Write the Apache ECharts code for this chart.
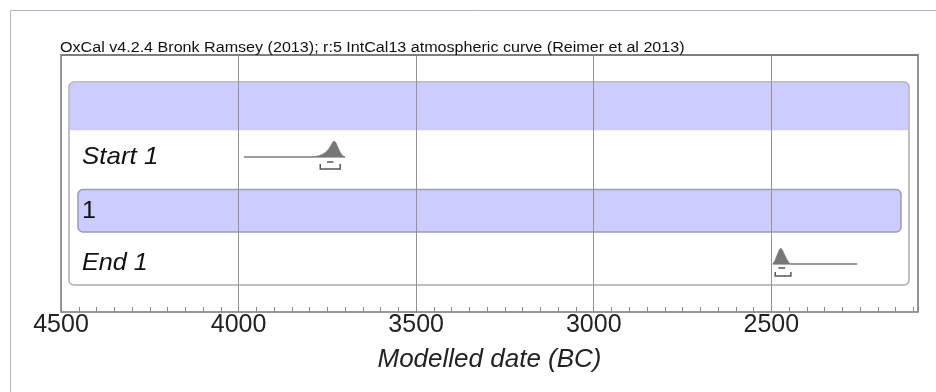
<!DOCTYPE html>
<html><head><meta charset="utf-8">
<script src="https://cdn.jsdelivr.net/npm/echarts@6/dist/echarts.min.js"></script>
<style>html,body{margin:0;padding:0;background:#fff}#c{width:936px;height:392px}</style>
</head><body><div id="c"></div>
<script>
// ---- data ----
const titleText = 'OxCal v4.2.4 Bronk Ramsey (2013); r:5 IntCal13 atmospheric curve (Reimer et al 2013)';
const axisName = 'Modelled date (BC)';
const axisMinBC = 4500;
const axisMaxBC = 2087;
const majorStep = 500;
const minorStep = 50;
const rowLabels = ['Start 1', '1', 'End 1'];

// Start 1 posterior (years BC, relative probability)
const startYears = [3985, 3800, 3785, 3775, 3765, 3756, 3748, 3741, 3735, 3731, 3726, 3720, 3714, 3707, 3700];
const startProb  = [0,    0,    0.03, 0.08, 0.16, 0.28, 0.45, 0.68, 0.92, 1.0,  0.9,  0.6,  0.3,  0.08, 0];
const startRange68 = [3751, 3733];
const startRange95 = [3770, 3714];

// End 1 posterior
const endYears = [2496, 2490, 2484, 2478, 2473, 2468, 2462, 2456, 2450, 2446, 2258];
const endProb  = [0,    0.2,  0.55, 0.88, 1.0,  0.85, 0.55, 0.28, 0.08, 0,    0];
const endRange68 = [2480, 2461];
const endRange95 = [2489, 2445];

// ---- layout ----
const G = {left: 61, right: 18, top: 55, bottom: 80};
const plotH = 392 - G.top - G.bottom;
const rowBase = {start: 102, end: 209}; // offsets from plot top (y axis units = px)
const peakPx = 16;
const FONT = "'Liberation Sans', Arial, sans-serif";

const dists = [
  {years: startYears, prob: startProb, base: rowBase.start, r68: startRange68, r95: startRange95, o68: 5, o95: 12, oTick: 7},
  {years: endYears, prob: endProb, base: rowBase.end, r68: endRange68, r95: endRange95, o68: 4, o95: 12, oTick: 8}
];

function renderDist(params, api) {
  const d = dists[params.dataIndex];
  const baseY = api.coord([-d.years[0], d.base])[1];
  const pts = d.years.map((y, i) => {
    const p = api.coord([-y, d.base]);
    return [p[0], p[1] - d.prob[i] * peakPx];
  });
  const xs = d.years.map(y => api.coord([-y, d.base])[0]);
  const minX = Math.min.apply(null, xs), maxX = Math.max.apply(null, xs);
  const a68 = api.coord([-d.r68[0], d.base])[0], b68 = api.coord([-d.r68[1], d.base])[0];
  const a95 = api.coord([-d.r95[0], d.base])[0], b95 = api.coord([-d.r95[1], d.base])[0];
  return {
    type: 'group',
    children: [
      {type: 'line', shape: {x1: minX, y1: baseY, x2: maxX, y2: baseY}, style: {stroke: '#8c8c8c', lineWidth: 1}},
      {type: 'polygon', shape: {points: pts}, style: {fill: '#777777', stroke: '#777777', lineWidth: 0.6}},
      {type: 'line', shape: {x1: a68, y1: baseY + d.o68, x2: b68, y2: baseY + d.o68}, style: {stroke: '#555', lineWidth: 1.5}},
      {type: 'polyline', shape: {points: [[a95, baseY + d.oTick], [a95, baseY + d.o95], [b95, baseY + d.o95], [b95, baseY + d.oTick]]},
        style: {stroke: '#555', lineWidth: 1.5, fill: null}}
    ]
  };
}

function label(x, y, text, font, sx) {
  return {type: 'text', z: 50, x: x, y: y, scaleX: sx,
    style: {x: 0, y: 0, text: text, font: font, fill: '#111', verticalAlign: 'middle'}};
}

const chart = echarts.init(document.getElementById('c'), null, {renderer: 'canvas'});
chart.setOption({
  animation: false,
  backgroundColor: '#fff',
  grid: [
    Object.assign({show: true, borderColor: '#777', borderWidth: 1.5, backgroundColor: 'transparent'}, G),
    Object.assign({show: false}, G)
  ],
  xAxis: [
    {
      type: 'value', gridIndex: 0, min: -axisMinBC, max: -axisMaxBC, interval: majorStep,
      axisLine: {show: true, lineStyle: {color: '#777', width: 1.5}},
      axisTick: {show: false},
      axisLabel: {
        formatter: v => (v % majorStep === 0 ? String(Math.abs(v)) : ''),
        fontFamily: FONT, fontSize: 25, color: '#222', margin: 1, showMaxLabel: true, showMinLabel: true
      },
      splitLine: {show: true, lineStyle: {color: '#939393', width: 1}},
      name: axisName, nameLocation: 'middle', nameGap: 35,
      nameTextStyle: {fontFamily: FONT, fontSize: 26, fontStyle: 'italic', color: '#222'}
    },
    {
      type: 'value', gridIndex: 1, min: -axisMinBC, max: -axisMaxBC, interval: minorStep,
      axisLine: {show: false},
      axisTick: {show: true, inside: true, length: 5, lineStyle: {color: '#888', width: 1}},
      axisLabel: {show: false},
      splitLine: {show: false}
    }
  ],
  yAxis: [
    {type: 'value', gridIndex: 0, min: 0, max: plotH, inverse: true, show: false, splitLine: {show: false}},
    {type: 'value', gridIndex: 1, min: 0, max: plotH, show: false, splitLine: {show: false}}
  ],
  graphic: [
    // page border
    {type: 'rect', z: -20, shape: {x: 10.5, y: 10.5, width: 1000, height: 1000}, style: {fill: null, stroke: '#b4b4e0', lineWidth: 1}},
    // outer rounded box
    {type: 'rect', z: -10, shape: {x: 69, y: 82, width: 840, height: 203, r: 5}, style: {fill: '#fff', stroke: '#ababab', lineWidth: 1.5}},
    // header band
    {type: 'rect', z: -9, shape: {x: 69.75, y: 82.75, width: 838.5, height: 47.5, r: [4, 4, 0, 0]}, style: {fill: '#ccccff'}},
    // band "1"
    {type: 'rect', z: -9, shape: {x: 78, y: 189.5, width: 823, height: 42.5, r: 5}, style: {fill: '#ccccff', stroke: '#9a9ab0', lineWidth: 1.5}},
    // title
    label(60, 48, titleText, '14px ' + FONT, 1.15),
    // row labels
    label(82, 157, rowLabels[0], 'italic 24px ' + FONT, 1.08),
    label(82, 211, rowLabels[1], '24px ' + FONT, 1.05),
    label(82, 263, rowLabels[2], 'italic 24px ' + FONT, 1.05)
  ],
  series: [
    {
      type: 'custom', xAxisIndex: 0, yAxisIndex: 0, clip: false, z: 10,
      renderItem: renderDist,
      data: [[-startYears[9], rowBase.start], [-endYears[4], rowBase.end]]
    }
  ]
});
</script>
</body></html>
